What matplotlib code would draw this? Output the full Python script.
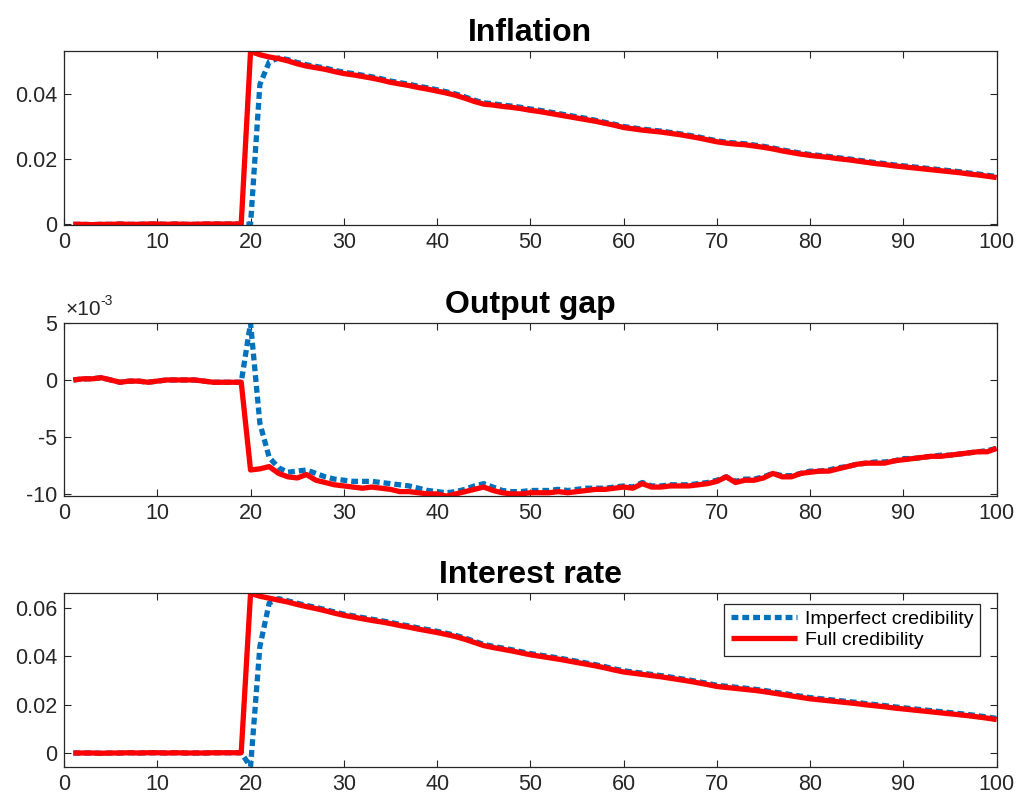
import matplotlib
matplotlib.use('Agg')
import matplotlib.pyplot as plt
from matplotlib.ticker import FuncFormatter

plt.rcParams['font.family'] = ['Liberation Sans', 'DejaVu Sans']
plt.rcParams['axes.unicode_minus'] = False

# periods 1..100
periods = list(range(1, 101))

# inflation
infl_imperf = [
    0.0000, 0.0000, -0.0001, 0.0000, 0.0000, 0.0001, 0.0000, 0.0000, 0.0001, 0.0001,
    0.0000, 0.0001, 0.0000, 0.0000, 0.0001, 0.0001, 0.0001, 0.0001, 0.0001, 0.0000,
    0.0430, 0.0500, 0.0512, 0.0507, 0.0498, 0.0491, 0.0486, 0.0481, 0.0474, 0.0468,
    0.0464, 0.0459, 0.0454, 0.0448, 0.0441, 0.0436, 0.0431, 0.0425, 0.0420, 0.0414,
    0.0408, 0.0401, 0.0392, 0.0382, 0.0374, 0.0371, 0.0367, 0.0364, 0.0360, 0.0355,
    0.0351, 0.0346, 0.0341, 0.0336, 0.0331, 0.0326, 0.0320, 0.0314, 0.0308, 0.0301,
    0.0297, 0.0293, 0.0290, 0.0287, 0.0283, 0.0279, 0.0274, 0.0269, 0.0263, 0.0257,
    0.0253, 0.0250, 0.0248, 0.0244, 0.0240, 0.0235, 0.0229, 0.0224, 0.0219, 0.0215,
    0.0212, 0.0209, 0.0205, 0.0202, 0.0198, 0.0194, 0.0190, 0.0187, 0.0183, 0.0180,
    0.0177, 0.0174, 0.0171, 0.0168, 0.0165, 0.0162, 0.0158, 0.0155, 0.0151, 0.0147]
infl_full = [
    0.0000, 0.0000, -0.0001, 0.0000, 0.0000, 0.0001, 0.0000, 0.0000, 0.0001, 0.0001,
    0.0000, 0.0001, 0.0000, 0.0000, 0.0001, 0.0001, 0.0001, 0.0001, 0.0001, 0.0532,
    0.0522, 0.0515, 0.0510, 0.0503, 0.0494, 0.0487, 0.0482, 0.0477, 0.0470, 0.0464,
    0.0460, 0.0455, 0.0450, 0.0444, 0.0437, 0.0432, 0.0427, 0.0421, 0.0416, 0.0410,
    0.0404, 0.0397, 0.0388, 0.0378, 0.0370, 0.0367, 0.0363, 0.0360, 0.0356, 0.0351,
    0.0347, 0.0342, 0.0337, 0.0332, 0.0327, 0.0322, 0.0317, 0.0311, 0.0305, 0.0298,
    0.0294, 0.0290, 0.0287, 0.0284, 0.0280, 0.0276, 0.0271, 0.0266, 0.0260, 0.0254,
    0.0250, 0.0247, 0.0245, 0.0241, 0.0237, 0.0232, 0.0226, 0.0221, 0.0216, 0.0212,
    0.0209, 0.0206, 0.0202, 0.0199, 0.0195, 0.0191, 0.0187, 0.0184, 0.0180, 0.0177,
    0.0174, 0.0171, 0.0168, 0.0165, 0.0162, 0.0159, 0.0155, 0.0152, 0.0148, 0.0144]

# output gap, in units of 1e-3
gap_imperf_e3 = [
    0.0, 0.1, 0.1, 0.2, 0.0, -0.2, -0.1, -0.1, -0.2, -0.1,
    0.0, 0.0, 0.0, 0.0, -0.1, -0.2, -0.2, -0.2, -0.2, 5.0,
    -3.8, -6.8, -7.7, -8.1, -8.0, -7.9, -8.2, -8.5, -8.7, -8.8,
    -8.9, -8.9, -8.9, -9.0, -9.1, -9.2, -9.3, -9.5, -9.7, -9.8,
    -9.9, -9.8, -9.6, -9.3, -9.1, -9.4, -9.7, -9.8, -9.8, -9.7,
    -9.7, -9.7, -9.6, -9.7, -9.6, -9.5, -9.5, -9.5, -9.4, -9.3,
    -9.4, -9.0, -9.3, -9.3, -9.2, -9.2, -9.2, -9.1, -9.0, -8.8,
    -8.5, -8.9, -8.7, -8.7, -8.5, -8.2, -8.4, -8.4, -8.2, -8.0,
    -8.0, -7.9, -7.7, -7.6, -7.4, -7.3, -7.2, -7.2, -7.1, -6.9,
    -6.9, -6.8, -6.7, -6.6, -6.6, -6.5, -6.4, -6.3, -6.2, -6.0]
gap_full_e3 = [
    0.0, 0.1, 0.1, 0.2, 0.0, -0.2, -0.1, -0.1, -0.2, -0.1,
    0.0, 0.0, 0.0, 0.0, -0.1, -0.2, -0.2, -0.2, -0.2, -7.9,
    -7.8, -7.6, -8.2, -8.5, -8.6, -8.3, -8.8, -9.0, -9.2, -9.3,
    -9.4, -9.5, -9.4, -9.5, -9.6, -9.8, -9.8, -9.9, -10.0, -10.0,
    -10.2, -10.0, -9.8, -9.6, -9.4, -9.7, -9.9, -10.0, -10.0, -9.9,
    -9.9, -9.9, -9.8, -9.9, -9.8, -9.7, -9.6, -9.6, -9.5, -9.4,
    -9.5, -9.1, -9.4, -9.4, -9.3, -9.3, -9.3, -9.2, -9.1, -8.9,
    -8.5, -9.0, -8.8, -8.8, -8.6, -8.2, -8.5, -8.5, -8.2, -8.1,
    -8.0, -8.0, -7.8, -7.6, -7.4, -7.3, -7.3, -7.3, -7.1, -7.0,
    -6.9, -6.8, -6.7, -6.7, -6.6, -6.5, -6.4, -6.3, -6.3, -6.0]

# interest rate
rate_imperf = [
    0.0000, 0.0000, 0.0000, -0.0001, 0.0000, 0.0000, 0.0001, 0.0000, 0.0001, 0.0001,
    0.0000, 0.0001, 0.0000, 0.0000, 0.0000, 0.0001, 0.0001, 0.0001, 0.0001, -0.0057,
    0.0440, 0.0620, 0.0638, 0.0629, 0.0619, 0.0610, 0.0602, 0.0593, 0.0583, 0.0574,
    0.0567, 0.0560, 0.0553, 0.0547, 0.0540, 0.0532, 0.0525, 0.0517, 0.0510, 0.0503,
    0.0495, 0.0486, 0.0475, 0.0462, 0.0449, 0.0441, 0.0434, 0.0427, 0.0419, 0.0411,
    0.0405, 0.0399, 0.0393, 0.0386, 0.0379, 0.0372, 0.0365, 0.0357, 0.0348, 0.0340,
    0.0335, 0.0330, 0.0325, 0.0320, 0.0314, 0.0308, 0.0302, 0.0295, 0.0288, 0.0280,
    0.0276, 0.0272, 0.0268, 0.0264, 0.0259, 0.0253, 0.0247, 0.0241, 0.0235, 0.0229,
    0.0225, 0.0221, 0.0217, 0.0213, 0.0209, 0.0204, 0.0200, 0.0196, 0.0191, 0.0187,
    0.0183, 0.0179, 0.0175, 0.0171, 0.0167, 0.0163, 0.0159, 0.0154, 0.0149, 0.0143]
rate_full = [
    0.0000, 0.0000, 0.0000, -0.0001, 0.0000, 0.0000, 0.0001, 0.0000, 0.0001, 0.0001,
    0.0000, 0.0001, 0.0000, 0.0000, 0.0000, 0.0001, 0.0001, 0.0001, 0.0001, 0.0660,
    0.0648, 0.0640, 0.0632, 0.0624, 0.0614, 0.0605, 0.0597, 0.0588, 0.0578, 0.0569,
    0.0562, 0.0555, 0.0548, 0.0542, 0.0535, 0.0527, 0.0520, 0.0512, 0.0505, 0.0498,
    0.0490, 0.0481, 0.0470, 0.0457, 0.0444, 0.0436, 0.0429, 0.0422, 0.0414, 0.0406,
    0.0400, 0.0394, 0.0388, 0.0381, 0.0374, 0.0367, 0.0360, 0.0352, 0.0343, 0.0335,
    0.0330, 0.0325, 0.0320, 0.0315, 0.0309, 0.0303, 0.0297, 0.0290, 0.0283, 0.0275,
    0.0271, 0.0267, 0.0263, 0.0259, 0.0254, 0.0248, 0.0242, 0.0236, 0.0230, 0.0224,
    0.0220, 0.0216, 0.0212, 0.0208, 0.0204, 0.0199, 0.0195, 0.0191, 0.0186, 0.0182,
    0.0178, 0.0174, 0.0170, 0.0166, 0.0162, 0.0158, 0.0154, 0.0149, 0.0144, 0.0138]

titles = ['Inflation', 'Output gap', 'Interest rate']
labels = ['Imperfect credibility', 'Full credibility']
x_ticks = [0, 10, 20, 30, 40, 50, 60, 70, 80, 90, 100]

blue = '#0072BD'
red = '#FF0000'
dark = '#262626'

fig = plt.figure(figsize=(10.16, 7.99), dpi=100)
# left, bottom, width, height (figure fraction)
rects = [[0.063, 0.718, 0.918, 0.218],
         [0.063, 0.379, 0.918, 0.217],
         [0.063, 0.040, 0.918, 0.218]]

gap_imperf = [v * 1e-3 for v in gap_imperf_e3]
gap_full = [v * 1e-3 for v in gap_full_e3]
series = [(infl_imperf, infl_full), (gap_imperf, gap_full), (rate_imperf, rate_full)]
ylims = [(-0.0003, 0.0533), (-0.0102, 0.00502), (-0.0058, 0.0662)]
yticks = [[0, 0.02, 0.04], [-0.010, -0.005, 0, 0.005], [0, 0.02, 0.04, 0.06]]

axes = []
for i in range(3):
    ax = fig.add_axes(rects[i])
    y_imp, y_full = series[i]
    ax.plot(periods, y_imp, color=blue, lw=3.8, linestyle=(0, (1.3, 0.75)),
            label=labels[0])
    ax.plot(periods, y_full, color=red, lw=3.8, solid_capstyle='butt',
            label=labels[1])
    ax.set_xlim(0, 100)
    ax.set_ylim(*ylims[i])
    ax.set_xticks(x_ticks)
    ax.set_yticks(yticks[i])
    ax.set_title(titles[i], fontsize=23, fontweight='bold', pad=7, color='black')
    ax.tick_params(direction='in', top=True, right=True, length=5, width=0.8,
                   labelsize=15.5, colors=dark, pad=5)
    for sp in ax.spines.values():
        sp.set_color(dark)
        sp.set_linewidth(0.9)
    axes.append(ax)

# plain tick labels like 0, 0.02, 0.04 (hyphen minus, MATLAB style)
fmt = FuncFormatter(lambda v, p: '%g' % round(v, 6))
axes[0].yaxis.set_major_formatter(fmt)
axes[2].yaxis.set_major_formatter(fmt)

# output gap ticks shown in units of 1e-3 with a multiplier above the axis
axes[1].yaxis.set_major_formatter(FuncFormatter(lambda v, p: '%g' % round(v * 1e3, 6)))
axes[1].annotate('\u00d710', xy=(0, 1), xycoords='axes fraction', xytext=(1, 3),
                 textcoords='offset points', ha='left', va='bottom',
                 fontsize=15, color=dark)
axes[1].annotate('-3', xy=(0, 1), xycoords='axes fraction', xytext=(26.5, 11),
                 textcoords='offset points', ha='left', va='bottom',
                 fontsize=10, color=dark)

leg = axes[2].legend(loc='upper right', bbox_to_anchor=(0.982, 0.937),
                     borderaxespad=0, fontsize=14, handlelength=3.4,
                     handletextpad=0.4, frameon=True, fancybox=False,
                     borderpad=0.35, labelspacing=0.15)
leg.get_frame().set_edgecolor(dark)
leg.get_frame().set_linewidth(0.9)
leg.get_frame().set_alpha(1)

fig.savefig('out.png', dpi=100, facecolor='white')
